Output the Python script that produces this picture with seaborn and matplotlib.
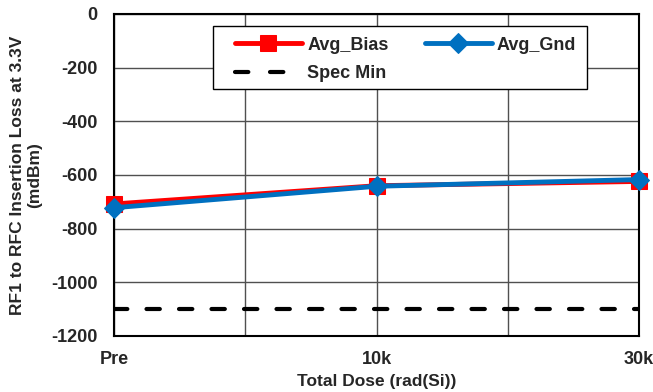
import pandas as pd
import matplotlib.pyplot as plt
import seaborn as sns
from matplotlib.ticker import MultipleLocator
from matplotlib.patches import Rectangle

# Data
doses = ['Pre', '10k', '30k']
avg_bias = [-708, -640, -624]
avg_gnd = [-722, -642, -617]
spec_min = [-1100, -1100, -1100]

sns.set_theme(style="white")
plt.rcParams['font.family'] = ['Liberation Sans', 'DejaVu Sans']
plt.rcParams['font.weight'] = 'bold'
plt.rcParams['axes.unicode_minus'] = False

df = pd.DataFrame({'x': range(len(doses)), 'Avg_Bias': avg_bias,
                   'Avg_Gnd': avg_gnd, 'Spec Min': spec_min})

fig = plt.figure(figsize=(6.53, 3.92), dpi=100)
ax = fig.add_axes([0.1746, 0.1429, 0.804, 0.8214])

spec_style = (0, (3.2, 4.6))
sns.lineplot(data=df, x='x', y='Avg_Bias', ax=ax, color='#ff0000', lw=3.5,
             marker='s', markersize=12, markeredgecolor='#ff0000', label='Avg_Bias',
             clip_on=False, zorder=3)
sns.lineplot(data=df, x='x', y='Spec Min', ax=ax, color='black', lw=3,
             linestyle=spec_style, dash_capstyle='round', label='Spec Min', zorder=3)
sns.lineplot(data=df, x='x', y='Avg_Gnd', ax=ax, color='#0070c0', lw=3.5,
             marker='D', markersize=10, markeredgecolor='#0070c0', label='Avg_Gnd',
             clip_on=False, zorder=4)

ax.set_xlim(0, 2)
ax.set_ylim(-1200, 0)
ax.set_xticks(range(len(doses)))
ax.set_xticklabels(doses)
ax.xaxis.set_minor_locator(MultipleLocator(0.5))
ax.yaxis.set_major_locator(MultipleLocator(200))
ax.grid(True, which='both', axis='x', color='#505050', lw=1)
ax.grid(True, which='major', axis='y', color='#505050', lw=1)
ax.tick_params(axis='y', labelsize=13, length=0, pad=12)
ax.tick_params(axis='x', labelsize=13, length=0, pad=11)
ax.tick_params(which='minor', length=0)
for lbl in ax.get_xticklabels() + ax.get_yticklabels():
    lbl.set_fontweight('bold')
for s in ax.spines.values():
    s.set_color('black')
    s.set_linewidth(1.5)

ax.set_xlabel('Total Dose (rad(Si))', fontsize=12.5, fontweight='bold', labelpad=4)
ax.set_ylabel('RF1 to RFC Insertion Loss at 3.3V\n(mdBm)', fontsize=12.5,
              fontweight='bold', labelpad=6)

handles, labels = ax.get_legend_handles_labels()
leg = ax.legend(handles, labels, ncol=2, loc='upper left',
                bbox_to_anchor=(0.2305, 0.93), frameon=False, fontsize=13,
                handlelength=3.7, handletextpad=0.3, columnspacing=2.0,
                borderpad=0, labelspacing=0.65, borderaxespad=0)
for t in leg.get_texts():
    t.set_fontweight('bold')
for h in leg.legend_handles:
    if h.get_label() == 'Spec Min':
        h.set_linestyle((0, (3.2, 5.2)))
        h.set_dash_capstyle('round')
leg.set_zorder(6)
ax.add_patch(Rectangle((0.1886, 0.767), 0.712, 0.196, transform=ax.transAxes,
                       facecolor='white', edgecolor='black', lw=1, zorder=5))

fig.savefig('out.png', dpi=100)
